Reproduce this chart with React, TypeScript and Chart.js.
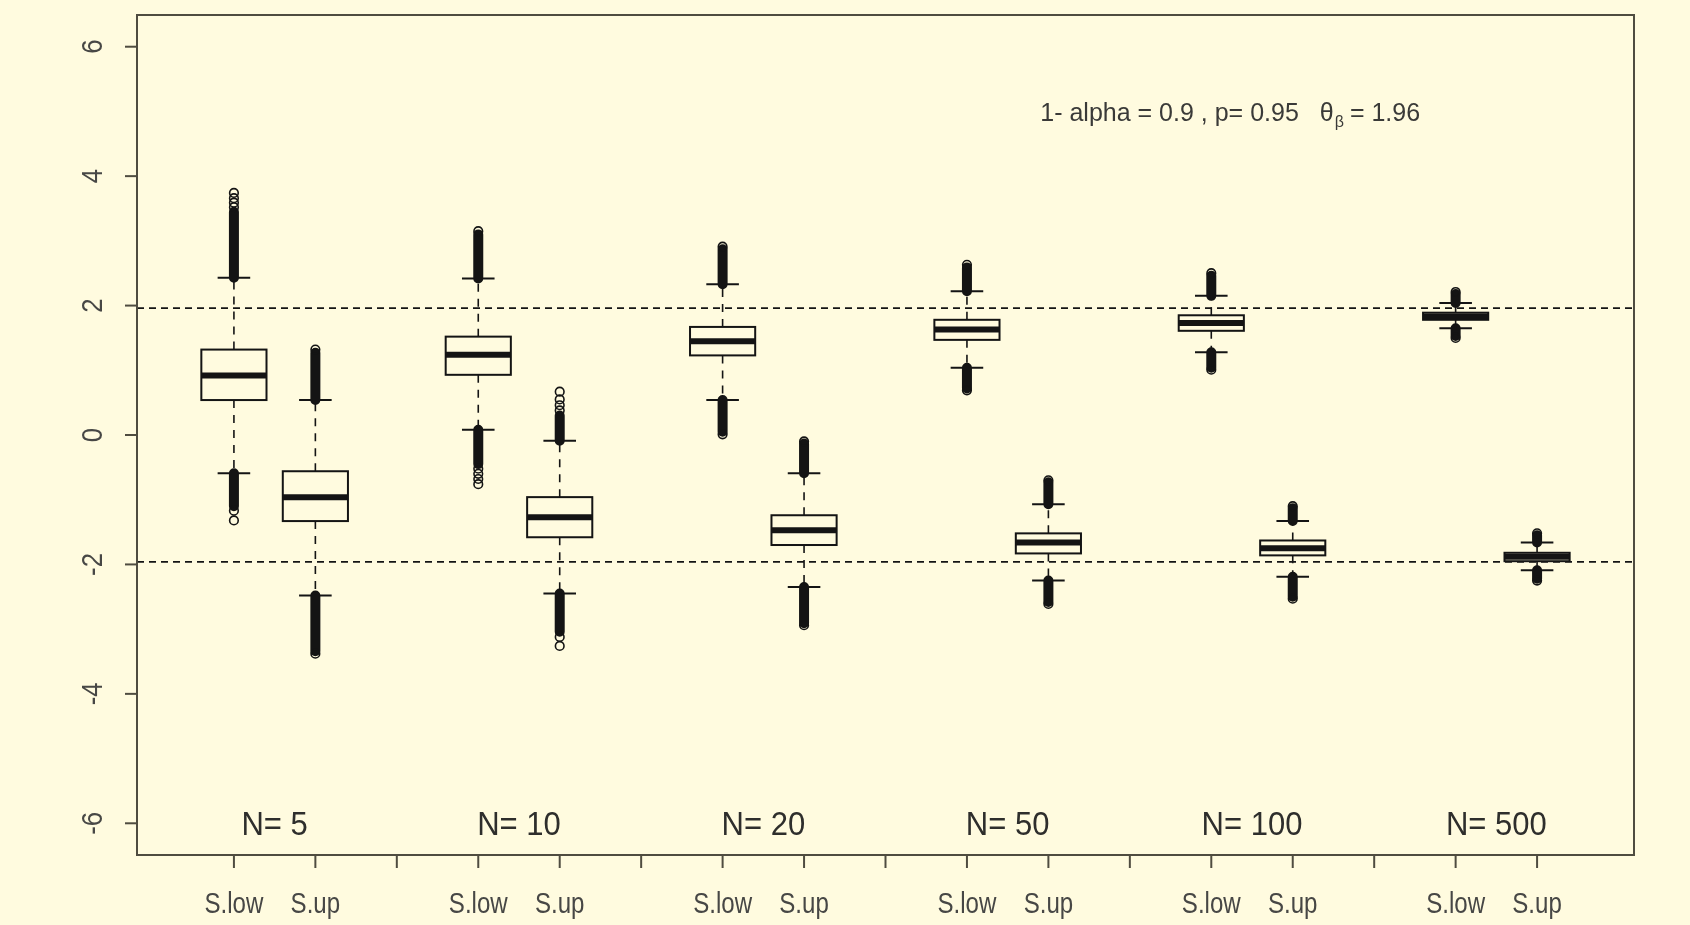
import React, { useEffect, useRef } from "react";
import { Chart, registerables } from "chart.js";

Chart.register(...registerables);

// ---------- data ----------
const groupLabels = ["N= 5", "N= 10", "N= 20", "N= 50", "N= 100", "N= 500"];
const groupCenters = [1.5, 4.5, 7.5, 10.5, 13.5, 16.5];
const lowPositions = [1, 4, 7, 10, 13, 16];
const upPositions = [2, 5, 8, 11, 14, 17];

const xTickPositions = [1, 2, 3, 4, 5, 6, 7, 8, 9, 10, 11, 12, 13, 14, 15, 16, 17];
const xTickLabels = ["S.low", "S.up", "", "S.low", "S.up", "", "S.low", "S.up", "", "S.low", "S.up", "", "S.low", "S.up", "", "S.low", "S.up"];
const yTickValues = [-6, -4, -2, 0, 2, 4, 6];
const refLines = [1.96, -1.96];

// S.low boxes
const lowQ1 = [0.54, 0.93, 1.23, 1.47, 1.61, 1.78];
const lowMedian = [0.92, 1.24, 1.45, 1.63, 1.73, 1.83];
const lowQ3 = [1.32, 1.52, 1.67, 1.78, 1.85, 1.89];
const lowWhiskerLo = [-0.59, 0.08, 0.54, 1.04, 1.28, 1.65];
const lowWhiskerHi = [2.43, 2.42, 2.33, 2.22, 2.15, 2.04];
const lowUpperDenseEnd = [3.45, 3.1, 2.87, 2.59, 2.46, 2.18];
const lowLowerDenseEnd = [-1.1, -0.45, 0.05, 0.72, 1.04, 1.53];
const lowUpperSparse = [[3.52, 3.59, 3.66, 3.74], [3.15], [2.91], [2.63], [2.5], [2.21]];
const lowLowerSparse = [[-1.17, -1.32], [-0.52, -0.6, -0.68, -0.76], [0.01], [0.69], [1.01], [1.5]];

// S.up boxes
const upQ1 = [-1.33, -1.58, -1.7, -1.83, -1.86, -1.95];
const upMedian = [-0.96, -1.27, -1.47, -1.66, -1.75, -1.88];
const upQ3 = [-0.56, -0.96, -1.24, -1.52, -1.63, -1.82];
const upWhiskerLo = [-2.48, -2.45, -2.35, -2.25, -2.19, -2.09];
const upWhiskerHi = [0.54, -0.09, -0.59, -1.07, -1.33, -1.66];
const upUpperDenseEnd = [1.27, 0.3, -0.13, -0.73, -1.13, -1.55];
const upLowerDenseEnd = [-3.34, -3.04, -2.91, -2.58, -2.5, -2.22];
const upUpperSparse = [[1.32], [0.38, 0.46, 0.55, 0.67], [-0.1], [-0.7], [-1.1], [-1.52]];
const upLowerSparse = [[-3.38], [-3.12, -3.26], [-2.94], [-2.61], [-2.53], [-2.25]];

const annotationMain = "1- alpha = 0.9 , p= 0.95";
const annotationTheta = "\u03b8";
const annotationSub = "\u03b2";
const annotationTail = "= 1.96";

// ---------- styling ----------
const BG = "#fffbdf";
const INK = "#141414";
const AXIS = "#4f4c40";
const TEXT = "#474745";
const FONT = "'Liberation Sans', Arial, sans-serif";

function buildOutlierPoints() {
  const pts: { x: number; y: number }[] = [];
  lowPositions.forEach((p, i) => {
    lowUpperSparse[i].forEach((v) => pts.push({ x: p, y: v }));
    lowLowerSparse[i].forEach((v) => pts.push({ x: p, y: v }));
  });
  upPositions.forEach((p, i) => {
    upUpperSparse[i].forEach((v) => pts.push({ x: p, y: v }));
    upLowerSparse[i].forEach((v) => pts.push({ x: p, y: v }));
  });
  return pts;
}

function drawBox(ctx: CanvasRenderingContext2D, xs: any, ys: any, pos: number, q1: number, med: number, q3: number, wlo: number, whi: number, dlo: number, dhi: number) {
  const xc = xs.getPixelForValue(pos);
  const half = xs.getPixelForValue(pos + 0.4) - xc;
  const cap = xs.getPixelForValue(pos + 0.2) - xc;
  const y = (v: number) => ys.getPixelForValue(v);

  ctx.save();
  ctx.strokeStyle = INK;
  // dense outlier columns
  ctx.lineWidth = 10;
  ctx.lineCap = "round";
  ctx.setLineDash([]);
  ctx.beginPath();
  ctx.moveTo(xc, y(whi));
  ctx.lineTo(xc, y(dhi));
  ctx.moveTo(xc, y(wlo));
  ctx.lineTo(xc, y(dlo));
  ctx.stroke();

  // whiskers (dashed)
  ctx.lineCap = "butt";
  ctx.lineWidth = 1.6;
  ctx.setLineDash([8, 7]);
  ctx.beginPath();
  ctx.moveTo(xc, y(q3));
  ctx.lineTo(xc, y(whi));
  ctx.moveTo(xc, y(q1));
  ctx.lineTo(xc, y(wlo));
  ctx.stroke();

  // caps
  ctx.setLineDash([]);
  ctx.lineWidth = 2;
  ctx.beginPath();
  ctx.moveTo(xc - cap, y(whi));
  ctx.lineTo(xc + cap, y(whi));
  ctx.moveTo(xc - cap, y(wlo));
  ctx.lineTo(xc + cap, y(wlo));
  ctx.stroke();

  // box
  ctx.lineWidth = 2;
  ctx.strokeRect(xc - half, y(q3), 2 * half, y(q1) - y(q3));
  // median
  ctx.lineWidth = 6;
  ctx.beginPath();
  ctx.moveTo(xc - half, y(med));
  ctx.lineTo(xc + half, y(med));
  ctx.stroke();
  ctx.restore();
}

const rPlotPlugin = {
  id: "rPlot",
  beforeDraw(chart: any) {
    const ctx = chart.ctx;
    ctx.save();
    ctx.fillStyle = BG;
    ctx.fillRect(0, 0, chart.width, chart.height);
    ctx.restore();
  },
  beforeDatasetsDraw(chart: any) {
    const ctx = chart.ctx;
    const xs = chart.scales.x;
    const ys = chart.scales.y;
    lowPositions.forEach((p, i) =>
      drawBox(ctx, xs, ys, p, lowQ1[i], lowMedian[i], lowQ3[i], lowWhiskerLo[i], lowWhiskerHi[i], lowLowerDenseEnd[i], lowUpperDenseEnd[i])
    );
    upPositions.forEach((p, i) =>
      drawBox(ctx, xs, ys, p, upQ1[i], upMedian[i], upQ3[i], upWhiskerLo[i], upWhiskerHi[i], upLowerDenseEnd[i], upUpperDenseEnd[i])
    );
  },
  afterDatasetsDraw(chart: any) {
    const ctx = chart.ctx;
    const xs = chart.scales.x;
    const ys = chart.scales.y;
    const a = chart.chartArea;

    // reference lines
    ctx.save();
    ctx.strokeStyle = INK;
    ctx.lineWidth = 1.6;
    ctx.setLineDash([7, 5]);
    refLines.forEach((v) => {
      const py = ys.getPixelForValue(v);
      ctx.beginPath();
      ctx.moveTo(a.left, py);
      ctx.lineTo(a.right, py);
      ctx.stroke();
    });
    ctx.restore();

    // frame
    ctx.save();
    ctx.strokeStyle = AXIS;
    ctx.lineWidth = 2;
    ctx.strokeRect(a.left, a.top, a.right - a.left, a.bottom - a.top);

    // y ticks + rotated labels
    ctx.fillStyle = TEXT;
    yTickValues.forEach((v) => {
      const py = ys.getPixelForValue(v);
      ctx.beginPath();
      ctx.moveTo(a.left - 12, py);
      ctx.lineTo(a.left, py);
      ctx.stroke();
      ctx.save();
      ctx.translate(a.left - 35, py);
      ctx.rotate(-Math.PI / 2);
      ctx.scale(0.92, 1.05);
      ctx.font = `28px ${FONT}`;
      ctx.textAlign = "center";
      ctx.textBaseline = "alphabetic";
      ctx.fillText(String(v), 0, 0);
      ctx.restore();
    });

    // x ticks + labels
    xTickPositions.forEach((p, i) => {
      const px = xs.getPixelForValue(p);
      ctx.beginPath();
      ctx.moveTo(px, a.bottom);
      ctx.lineTo(px, a.bottom + 13);
      ctx.stroke();
      const lab = xTickLabels[i];
      if (lab) {
        ctx.save();
        ctx.translate(px, a.bottom + 58);
        ctx.scale(0.86, 1.04);
        ctx.font = `28px ${FONT}`;
        ctx.textAlign = "center";
        ctx.textBaseline = "alphabetic";
        ctx.fillText(lab, 0, 0);
        ctx.restore();
      }
    });

    // group labels
    ctx.fillStyle = "#2e2e2c";
    ctx.textAlign = "center";
    ctx.textBaseline = "alphabetic";
    groupLabels.forEach((lab, i) => {
      ctx.save();
      ctx.translate(xs.getPixelForValue(groupCenters[i]), ys.getPixelForValue(-6.0) + 12);
      ctx.scale(0.97, 1.06);
      ctx.font = `32px ${FONT}`;
      ctx.fillText(lab, 0, 0);
      ctx.restore();
    });

    // annotation
    ctx.fillStyle = "#3a3a38";
    ctx.textAlign = "left";
    ctx.textBaseline = "alphabetic";
    ctx.font = `25px ${FONT}`;
    let tx = xs.getPixelForValue(10.9);
    const ty = ys.getPixelForValue(5) + 10;
    ctx.fillText(annotationMain, tx, ty);
    tx += ctx.measureText(annotationMain).width + 21;
    ctx.fillText(annotationTheta, tx, ty);
    tx += ctx.measureText(annotationTheta).width + 1;
    ctx.font = `16px ${FONT}`;
    ctx.fillText(annotationSub, tx, ty + 6);
    tx += ctx.measureText(annotationSub).width + 6;
    ctx.font = `25px ${FONT}`;
    ctx.fillText(annotationTail, tx, ty);
    ctx.restore();
  },
};

export default function App() {
  const ref = useRef<HTMLCanvasElement | null>(null);
  useEffect(() => {
    document.body.style.margin = "0";
    document.body.style.background = BG;
    if (!ref.current) return;
    const chart = new Chart(ref.current, {
      type: "scatter",
      data: {
        datasets: [
          {
            label: "outliers",
            data: buildOutlierPoints(),
            pointStyle: "circle",
            pointRadius: 4.3,
            borderWidth: 1.6,
            borderColor: INK,
            backgroundColor: "rgba(0,0,0,0)",
          },
        ],
      },
      options: {
        responsive: false,
        animation: false,
        layout: { padding: { left: 137, right: 56, top: 15, bottom: 70 } },
        plugins: { legend: { display: false }, tooltip: { enabled: false } },
        scales: {
          x: { type: "linear", min: -0.19, max: 18.19, display: false },
          y: { type: "linear", min: -6.49, max: 6.49, display: false },
        },
      },
      plugins: [rPlotPlugin],
    });
    return () => chart.destroy();
  }, []);
  return (
    <div style={{ position: "fixed", left: 0, top: 0, width: 1690, height: 925, background: BG }}>
      <canvas ref={ref} width={1690} height={925} style={{ display: "block", width: 1690, height: 925 }} />
    </div>
  );
}
